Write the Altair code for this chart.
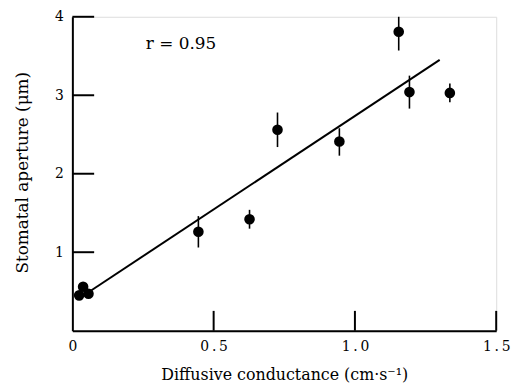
import altair as alt
import pandas as pd

# Data
x_vals = [0.024, 0.038, 0.057, 0.446, 0.627, 0.726, 0.945, 1.155, 1.193, 1.336]
y_vals = [0.45, 0.56, 0.47, 1.26, 1.42, 2.56, 2.41, 3.81, 3.04, 3.03]
err_x = [0.446, 0.627, 0.726, 0.945, 1.155, 1.193, 1.336]
err_lo = [1.06, 1.30, 2.34, 2.23, 3.57, 2.83, 2.91]
err_hi = [1.46, 1.54, 2.78, 2.58, 4.00, 3.25, 3.15]
fit_x = [0.057, 1.30]
fit_y = [0.49, 3.45]
x_ticks = [0.5, 1.0, 1.5]
y_ticks = [1, 2, 3, 4]
x_labels = [0, 0.5, 1.0, 1.5]

FONT = "DejaVu Serif"
W, H = 428, 317

pts = pd.DataFrame({"x": x_vals, "y": y_vals})
errs = pd.DataFrame({"x": err_x, "lo": err_lo, "hi": err_hi})
fit = pd.DataFrame({"x": fit_x, "y": fit_y})
xt = pd.DataFrame({"x": x_ticks})
yt = pd.DataFrame({"y": y_ticks})
ann = pd.DataFrame({"x": [0.26], "y": [3.65], "t": ["r = 0.95"]})

xscale = alt.Scale(domain=[0, 1.5], nice=False, zero=False)
yscale = alt.Scale(domain=[0, 4], nice=False, zero=False)

xaxis = alt.Axis(
    values=x_labels, grid=False, ticks=False, domainColor="black", domainWidth=2,
    labelFont=FONT, labelFontSize=14, labelColor="black", labelPadding=9,
    labelExpr="datum.value == 0 ? '0' : replace(format(datum.value, '.1f'), '.', '\u2009.\u2009')",
    title="Diffusive conductance (cm\u00b7s\u207b\u00b9)", titleFont=FONT, titleFontSize=16,
    titleFontWeight="normal", titleColor="black", titleY=44, titleBaseline="middle",
    labelFlush=False,
)
yaxis = alt.Axis(
    values=y_ticks, grid=False, ticks=False, domainColor="black", domainWidth=2,
    format="d",
    labelFont=FONT, labelFontSize=14, labelColor="black", labelPadding=9,
    title="Stomatal aperture (\u03bcm)", titleFont=FONT, titleFontSize=17,
    titleFontWeight="normal", titleColor="black", titleX=-50, titleY=157,
    titleAngle=-90, titleAlign="center", titleBaseline="middle",
)

base_pts = alt.Chart(pts).mark_circle(size=115, color="black", opacity=1).encode(
    x=alt.X("x:Q", scale=xscale, axis=xaxis),
    y=alt.Y("y:Q", scale=yscale, axis=yaxis),
)
bars = alt.Chart(errs).mark_rule(color="black", strokeWidth=1.6).encode(
    x="x:Q", y="lo:Q", y2="hi:Q"
)
line = alt.Chart(fit).mark_line(color="black", strokeWidth=2).encode(x="x:Q", y="y:Q")
text = alt.Chart(ann).mark_text(
    font=FONT, fontSize=17, align="left", baseline="middle", color="black"
).encode(x="x:Q", y="y:Q", text="t:N")
xtick = alt.Chart(xt).mark_rule(color="black", strokeWidth=2).encode(
    x="x:Q", y=alt.value(H), y2=alt.value(H - 20)
)
ytick = alt.Chart(yt).mark_rule(color="black", strokeWidth=2).encode(
    y="y:Q", x=alt.value(0), x2=alt.value(22)
)

chart = alt.layer(bars, line, base_pts, text, xtick, ytick).properties(
    width=W, height=H,
    autosize=alt.AutoSizeParams(type="none"),
    padding={"left": 65, "top": 7, "right": 20, "bottom": 55},
).configure_view(stroke=None).configure(background="white")

chart.save("out.html", embed_options={"renderer": "svg", "actions": False})
